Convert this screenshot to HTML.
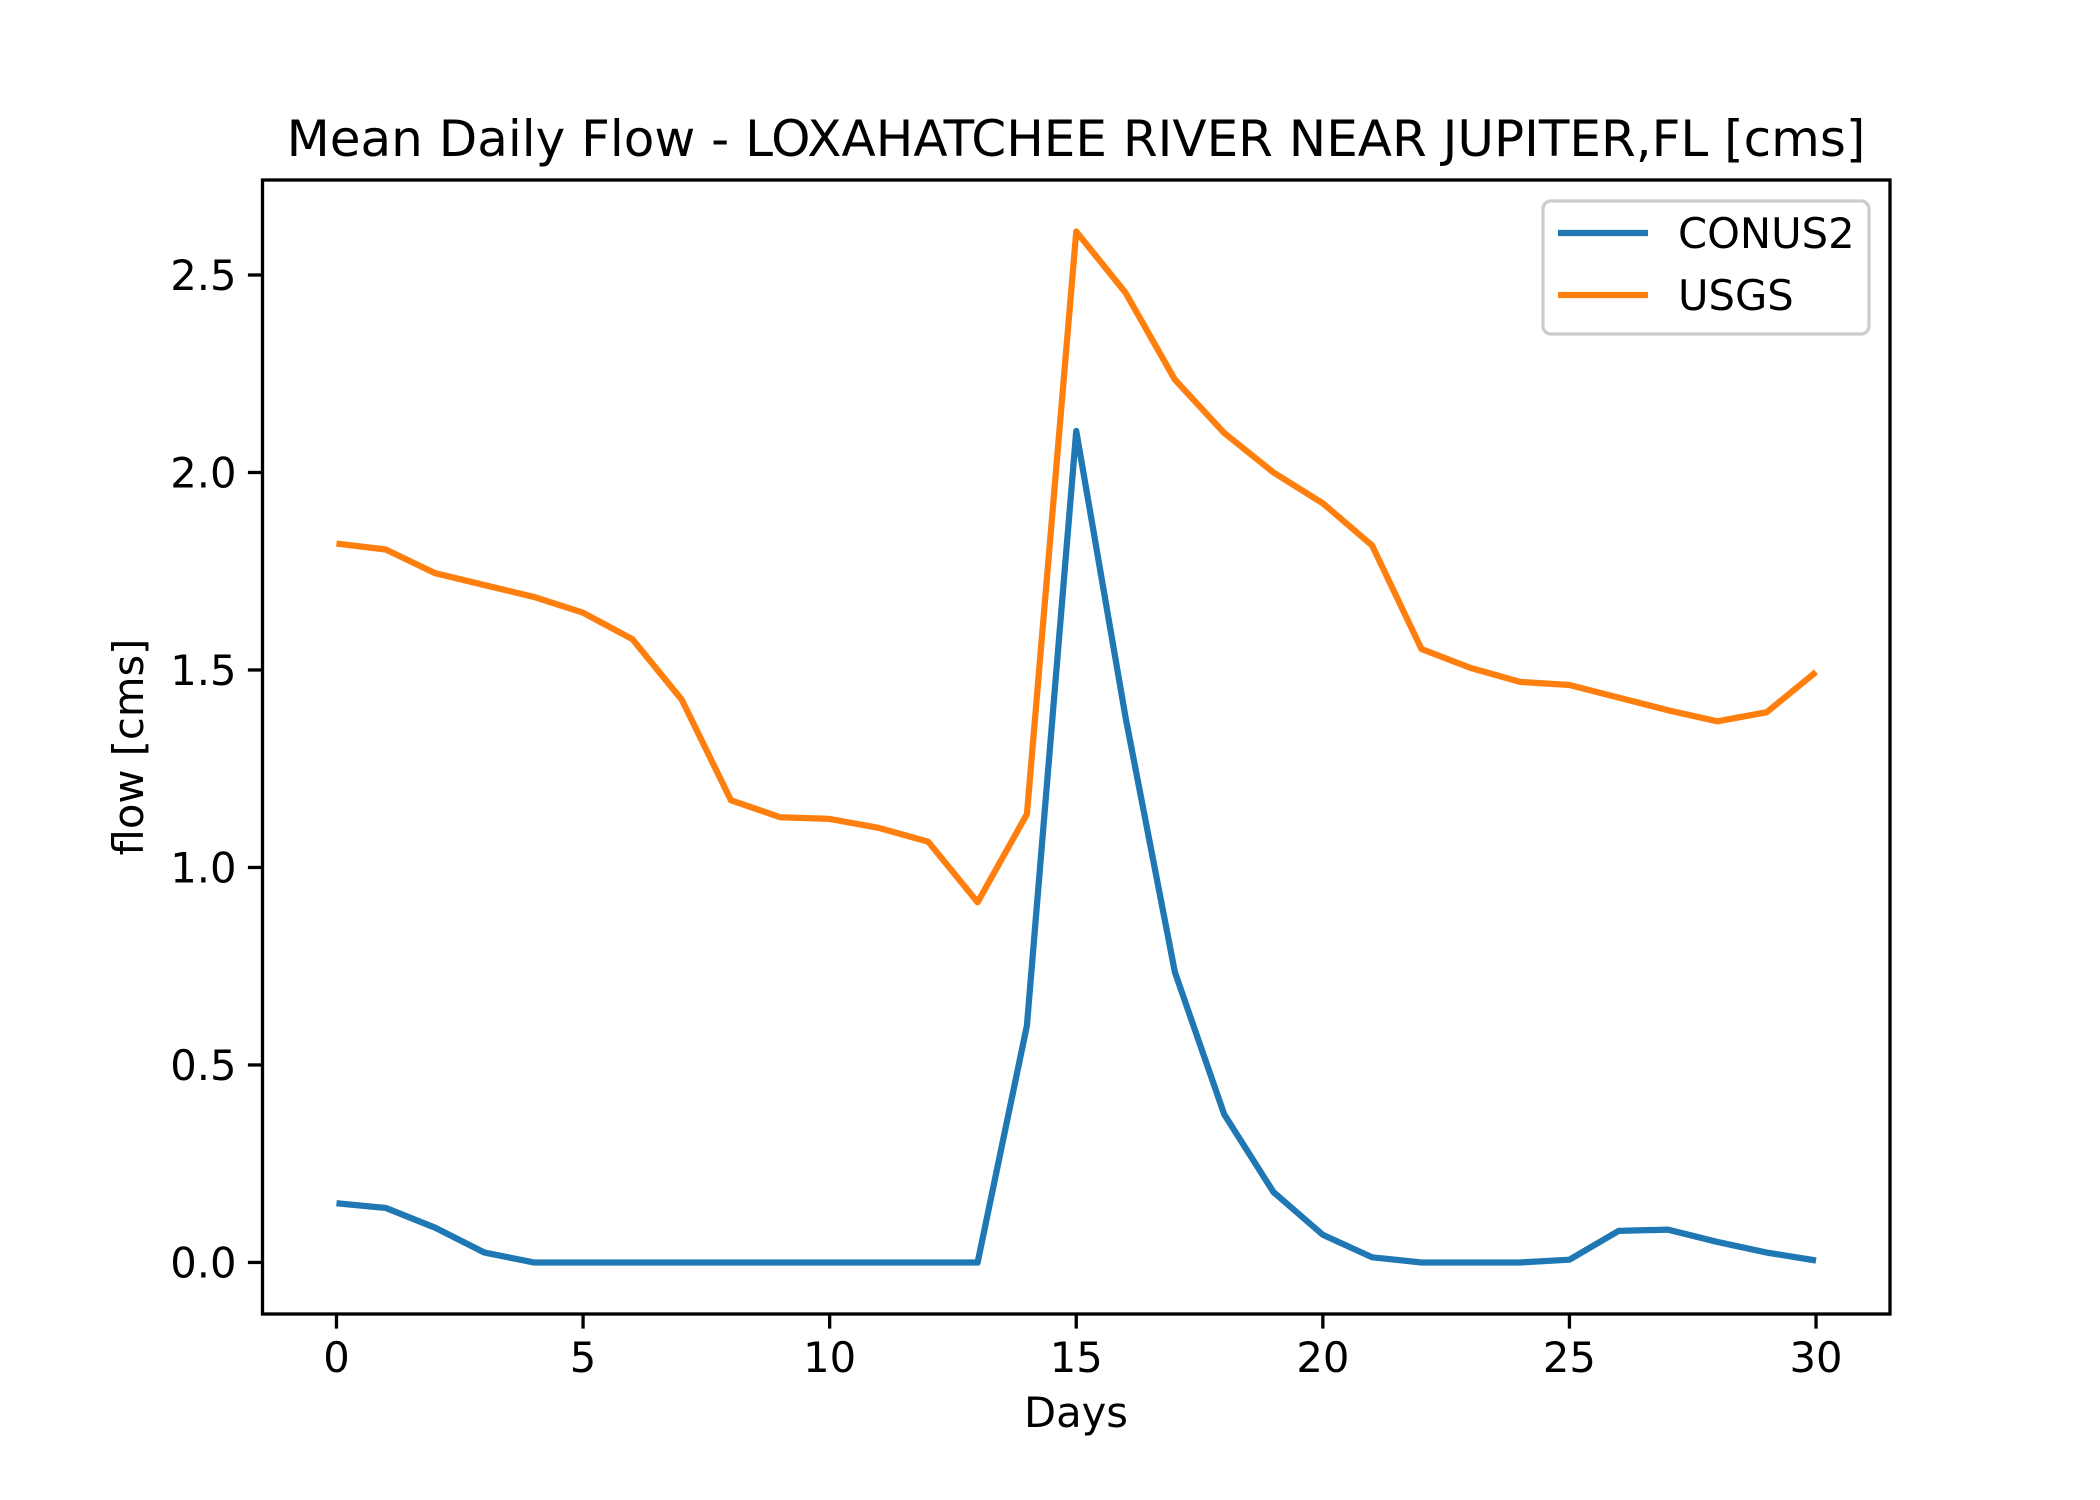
<!DOCTYPE html>
<html><head><meta charset="utf-8"><style>
html,body{margin:0;padding:0;background:#fff;}
svg{display:block;font-family:"DejaVu Sans","Liberation Sans",sans-serif;}
</style></head><body>
<svg id="chart" width="2100" height="1500" viewBox="0 0 2100 1500" xmlns="http://www.w3.org/2000/svg">
<rect width="2100" height="1500" fill="#fff"/>
<text x="1076" y="156" font-size="50" text-anchor="middle">Mean Daily Flow - LOXAHATCHEE RIVER NEAR JUPITER,FL [cms]</text>
<g id="series"></g>
<rect x="262.5" y="180" width="1627.5" height="1134" fill="none" stroke="#000" stroke-width="3.3"/>
<g id="ticks"></g>
<text x="1076" y="1427" font-size="41.7" text-anchor="middle">Days</text>
<text transform="translate(143,747) rotate(-90)" font-size="41.7" text-anchor="middle">flow [cms]</text>
<g>
<rect x="1543" y="201" width="326" height="133" rx="8" fill="#fff" fill-opacity="0.8" stroke="#ccc" stroke-width="3.3"/>
<line x1="1558" y1="233" x2="1648" y2="233" stroke="#1f77b4" stroke-width="6.25"/>
<text x="1678" y="248" font-size="41.7">CONUS2</text>
<line x1="1558" y1="295" x2="1648" y2="295" stroke="#ff7f0e" stroke-width="6.25"/>
<text x="1678" y="310" font-size="41.7">USGS</text>
</g>
</svg>
<script>
const days = [0,1,2,3,4,5,6,7,8,9,10,11,12,13,14,15,16,17,18,19,20,21,22,23,24,25,26,27,28,29,30];
const conus2 = [0.15,0.138,0.088,0.025,0,0,0,0,0,0,0,0,0,0,0.60,2.105,1.38,0.735,0.375,0.178,0.07,0.013,0,0,0,0.007,0.08,0.083,0.052,0.025,0.005];
const usgs = [1.82,1.805,1.745,1.715,1.685,1.645,1.578,1.425,1.17,1.127,1.123,1.10,1.065,0.912,1.135,2.61,2.455,2.235,2.10,2.0,1.922,1.815,1.553,1.505,1.47,1.462,1.43,1.398,1.37,1.393,1.495];
const xTicks = [0,5,10,15,20,25,30];
const yTicks = [0.0,0.5,1.0,1.5,2.0,2.5];
const NS='http://www.w3.org/2000/svg';
const L=262.5,R=1890,T=180,B=1314;
const allY=conus2.concat(usgs);
const ymin=Math.min(...allY), ymax=Math.max(...allY), yp=(ymax-ymin)*0.05;
const xmin=Math.min(...days), xmax=Math.max(...days), xp=(xmax-xmin)*0.05;
const xs=v=>L+(v-(xmin-xp))/((xmax+xp)-(xmin-xp))*(R-L);
const ys=v=>B-(v-(ymin-yp))/((ymax+yp)-(ymin-yp))*(B-T);
const series=document.getElementById('series'), ticks=document.getElementById('ticks');
function line(vals,color,name){
  const p=document.createElementNS(NS,'polyline');
  p.setAttribute('points',vals.map((v,i)=>xs(days[i])+','+ys(v)).join(' '));
  p.setAttribute('fill','none');p.setAttribute('stroke',color);p.setAttribute('stroke-width','6.25');
  p.setAttribute('stroke-linejoin','round');
  
  
  series.appendChild(p);
}
line(conus2,'#1f77b4','conus2-line');
line(usgs,'#ff7f0e','usgs-line');
xTicks.forEach(v=>{
  const x=xs(v);
  const l=document.createElementNS(NS,'line');
  l.setAttribute('x1',x);l.setAttribute('x2',x);l.setAttribute('y1',B);l.setAttribute('y2',B+14.6);
  l.setAttribute('stroke','#000');l.setAttribute('stroke-width','3.3');
  
  
  ticks.appendChild(l);
  const t=document.createElementNS(NS,'text');
  t.setAttribute('x',x);t.setAttribute('y',B+58);t.setAttribute('font-size','41.7');t.setAttribute('text-anchor','middle');
  t.textContent=v;
  
  
  ticks.appendChild(t);
});
yTicks.forEach(v=>{
  const y=ys(v);
  const l=document.createElementNS(NS,'line');
  l.setAttribute('x1',L-14.6);l.setAttribute('x2',L);l.setAttribute('y1',y);l.setAttribute('y2',y);
  l.setAttribute('stroke','#000');l.setAttribute('stroke-width','3.3');
  
  
  ticks.appendChild(l);
  const t=document.createElementNS(NS,'text');
  t.setAttribute('x',L-26);t.setAttribute('y',y+15);t.setAttribute('font-size','41.7');t.setAttribute('text-anchor','end');
  t.textContent=v.toFixed(1);
  
  
  ticks.appendChild(t);
});
</script>
</body></html>
